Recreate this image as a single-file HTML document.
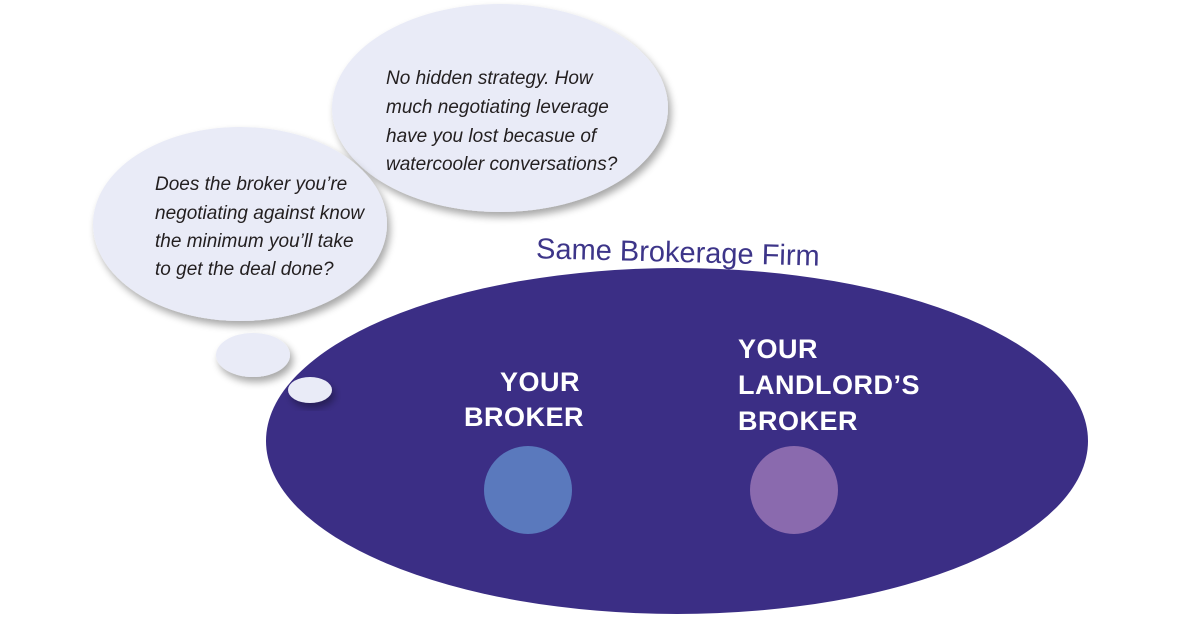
<!DOCTYPE html>
<html><head><meta charset="utf-8"><style>
html,body{margin:0;padding:0;background:#fff;}
svg{display:block;}
.q{font-family:"Liberation Sans",sans-serif;font-style:italic;font-size:19px;fill:#231f20;}
.w{font-family:"Liberation Sans",sans-serif;font-weight:bold;font-size:27px;fill:#fff;letter-spacing:0.5px;}
</style></head><body>
<svg width="1200" height="644" viewBox="0 0 1200 644" xmlns="http://www.w3.org/2000/svg">
<defs>
<filter id="sh" x="-20%" y="-20%" width="140%" height="150%">
<feGaussianBlur in="SourceAlpha" stdDeviation="4"/>
<feOffset dx="3" dy="5" result="b"/>
<feComponentTransfer><feFuncA type="linear" slope="0.35"/></feComponentTransfer>
<feMerge><feMergeNode/><feMergeNode in="SourceGraphic"/></feMerge>
</filter>
</defs>
<ellipse cx="677" cy="441" rx="411" ry="173" fill="#3b2e85"/>
<ellipse cx="500" cy="108" rx="168" ry="104" fill="#e9ebf7" filter="url(#sh)"/>
<ellipse cx="240" cy="224" rx="147" ry="97" fill="#e9ebf7" filter="url(#sh)"/>
<ellipse cx="253" cy="355" rx="37" ry="22" fill="#e9ebf7" filter="url(#sh)"/>
<ellipse cx="310" cy="390" rx="22" ry="13" fill="#e9ebf7" filter="url(#sh)"/>
<text class="q" x="386" y="84">No hidden strategy. How</text>
<text class="q" x="386" y="113">much negotiating leverage</text>
<text class="q" x="386" y="142">have you lost becasue of</text>
<text class="q" x="386" y="170">watercooler conversations?</text>
<text class="q" x="155" y="190">Does the broker you’re</text>
<text class="q" x="155" y="219">negotiating against know</text>
<text class="q" x="155" y="247">the minimum you’ll take</text>
<text class="q" x="155" y="275">to get the deal done?</text>
<text x="536" y="262" font-family="Liberation Sans,sans-serif" font-size="29" fill="#3d3589" transform="rotate(1.5 680 255)">Same Brokerage Firm</text>
<text class="w" x="500" y="391">YOUR</text>
<text class="w" x="464" y="426">BROKER</text>
<text class="w" x="738" y="358">YOUR</text>
<text class="w" x="738" y="394">LANDLORD’S</text>
<text class="w" x="738" y="430">BROKER</text>
<circle cx="528" cy="490" r="44" fill="#5a79bd"/>
<circle cx="794" cy="490" r="44" fill="#8a6aae"/>
</svg>
</body></html>
